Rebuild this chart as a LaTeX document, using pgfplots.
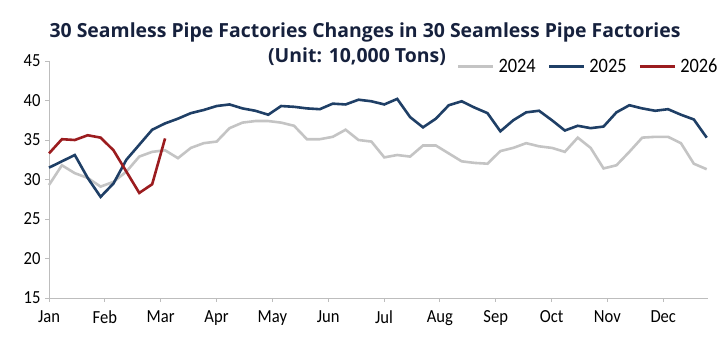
\documentclass[border=0pt]{standalone}
\usepackage{pgfplots}
\pgfplotsset{compat=1.18}
\usepackage{fontspec}
\setmainfont{Carlito}
\newfontfamily\lblfont[FakeStretch=0.9]{Carlito}
\newfontfamily\titlefont{Open Sans}
\definecolor{c24}{HTML}{C4C4C4}
\definecolor{c25}{HTML}{1F3F66}
\definecolor{c26}{HTML}{9B1C1F}
\definecolor{ttl}{HTML}{16213D}
\definecolor{axg}{HTML}{BDBDBD}
\begin{document}
\begin{tikzpicture}
\useasboundingbox (0,0) rectangle (725bp,351bp);
\begin{axis}[
  at={(49bp,53bp)}, anchor=south west,
  scale only axis, width=659bp, height=237bp,
  xmin=0, xmax=51.1, ymin=15, ymax=45,
  axis x line*=bottom, axis y line*=left,
  axis line style={axg, line width=0.8bp},
  xtick={0,4.33,8.66,12.99,17.32,21.65,25.98,30.31,34.64,38.97,43.3,47.63},
  xticklabels={Jan,Feb,Mar,Apr,May,Jun,Jul,Aug,Sep,Oct,Nov,Dec},
  ytick={15,20,25,30,35,40,45},
  tick align=outside, major tick length=4bp,
  tick style={axg, line width=0.8bp},
  /pgf/number format/assume math mode=true,
  ticklabel style={font=\lblfont\fontsize{18.5}{18.5}\selectfont, text=black},
  xticklabel style={yshift=-5bp},
  yticklabel style={xshift=-1bp},
  legend style={at={(0.6187,0.976)}, anchor=west, draw=none, fill=none,
    legend columns=3, font=\lblfont\fontsize{20.5}{20.5}\selectfont,
    inner sep=0pt, nodes={inner sep=0pt},
    /tikz/every odd column/.append style={column sep=4bp},
    /tikz/every even column/.append style={column sep=12bp}},
  legend image code/.code={\draw[#1] (0bp,0bp) -- (35bp,0bp);},
  clip=false,
]
\addplot[c24, line width=2.6bp] coordinates {
(0,29.3)(1,31.8)(2,30.8)(3,30.2)(4,29.1)(5,29.7)(6,31.0)(7,32.9)(8,33.5)(9,33.7)
(10,32.7)(11,34.0)(12,34.6)(13,34.8)(14,36.5)(15,37.2)(16,37.4)(17,37.4)(18,37.2)(19,36.8)
(20,35.1)(21,35.1)(22,35.4)(23,36.3)(24,35.0)(25,34.8)(26,32.8)(27,33.1)(28,32.9)(29,34.3)
(30,34.3)(31,33.3)(32,32.3)(33,32.1)(34,32.0)(35,33.6)(36,34.0)(37,34.6)(38,34.2)(39,34.0)
(40,33.5)(41,35.3)(42,34.0)(43,31.4)(44,31.8)(45,33.5)(46,35.3)(47,35.4)(48,35.4)(49,34.6)
(50,32.0)(51,31.3)};
\addlegendentry{2024}
\addplot[c25, line width=2.6bp] coordinates {
(0,31.5)(1,32.3)(2,33.1)(3,30.2)(4,27.8)(5,29.5)(6,32.5)(7,34.4)(8,36.3)(9,37.1)
(10,37.7)(11,38.4)(12,38.8)(13,39.3)(14,39.5)(15,39.0)(16,38.7)(17,38.2)(18,39.3)(19,39.2)
(20,39.0)(21,38.9)(22,39.6)(23,39.5)(24,40.1)(25,39.9)(26,39.5)(27,40.2)(28,37.9)(29,36.6)
(30,37.7)(31,39.4)(32,39.9)(33,39.1)(34,38.4)(35,36.1)(36,37.5)(37,38.5)(38,38.7)(39,37.5)
(40,36.2)(41,36.8)(42,36.5)(43,36.7)(44,38.5)(45,39.4)(46,39.0)(47,38.7)(48,38.9)(49,38.2)
(50,37.6)(51,35.3)};
\addlegendentry{2025}
\addplot[c26, line width=2.6bp] coordinates {
(0,33.3)(1,35.1)(2,35.0)(3,35.6)(4,35.3)(5,33.7)(6,31.0)(7,28.3)(8,29.4)(9,35.2)};
\addlegendentry{2026}
\end{axis}
\node[font=\titlefont\bfseries\fontsize{19.5}{20}\selectfont, text=ttl] at (365bp,319bp) {30 Seamless Pipe Factories Changes in 30 Seamless Pipe Factories};
\node[font=\titlefont\bfseries\fontsize{19.5}{20}\selectfont, text=ttl] at (357bp,294bp) {(Unit: 10,000 Tons)};
\end{tikzpicture}
\end{document}
